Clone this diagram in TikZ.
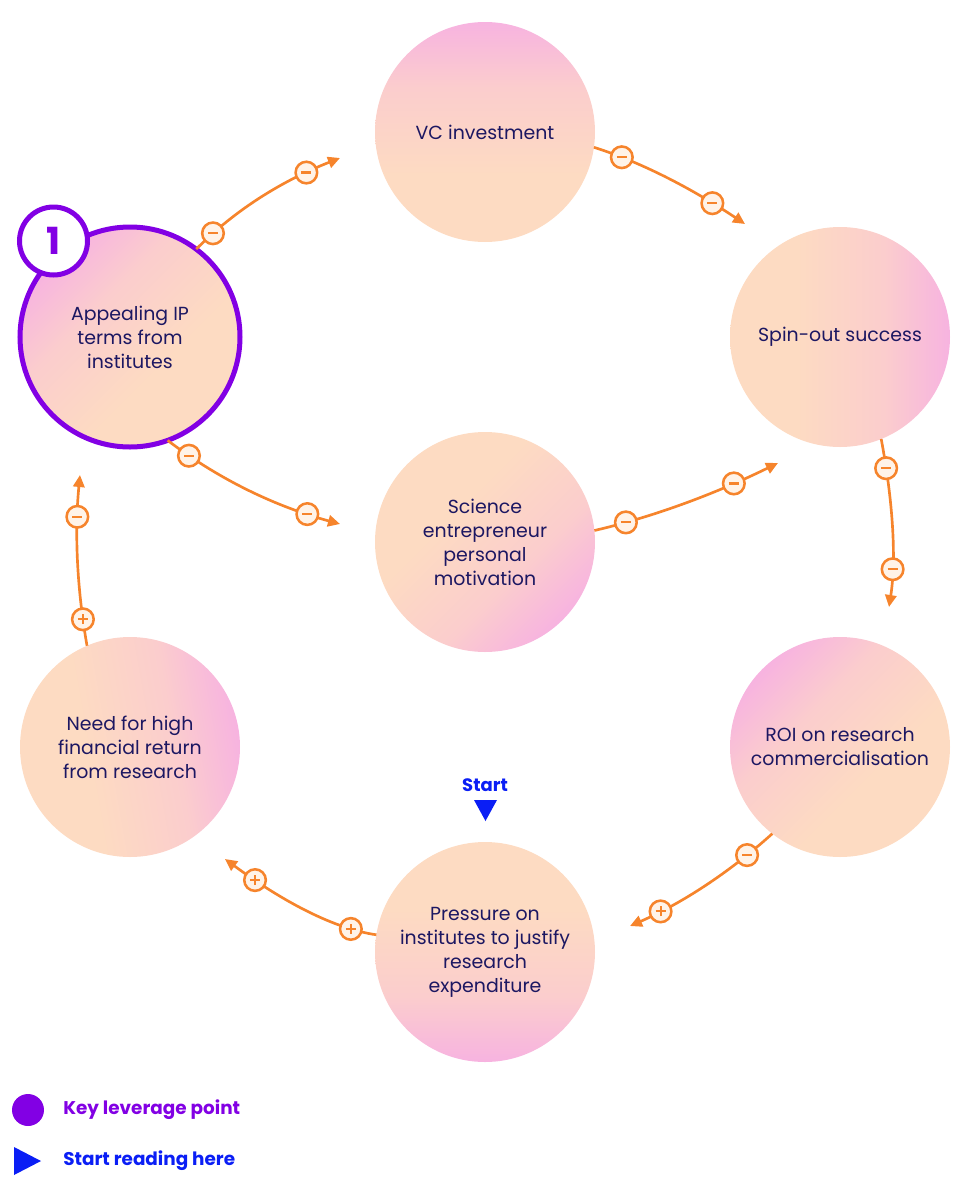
\documentclass[tikz,border=0pt]{standalone}
\usepackage{fontspec}
\setmainfont{Poppins}
\usetikzlibrary{arrows.meta}
\definecolor{pc}{HTML}{FDDBC2}
\definecolor{pm}{HTML}{FBCDCD}
\definecolor{pk}{HTML}{F7B3E0}
\definecolor{org}{HTML}{F6842C}
\definecolor{cream}{HTML}{FFF3E8}
\definecolor{navy}{HTML}{1C1762}
\definecolor{purp}{HTML}{8200E4}
\definecolor{blu}{HTML}{0A1EF5}
\pgfdeclareverticalshading{bub}{100bp}{color(0bp)=(pc); color(25bp)=(pc); color(40bp)=(pc); color(60bp)=(pm); color(75bp)=(pk); color(100bp)=(pk)}
\tikzset{
  bubble/.style={circle, minimum size=165pt, inner sep=0pt, outer sep=0pt, shading=bub, align=center, text=navy, font=\fontsize{14.2}{18}\selectfont},
  arr/.style={draw=org, line width=2pt, -{Triangle[length=9pt,width=8.5pt]}},
  mk/.style={circle, draw=org, line width=1.9pt, fill=cream, minimum size=16.2pt, inner sep=0pt},
  mkm/.style={mk, path picture={\draw[-, org, line width=1.6pt] ([xshift=-3.7pt]path picture bounding box.center) -- ([xshift=3.7pt]path picture bounding box.center);}},
  mkp/.style={mk, path picture={\draw[-, org, line width=1.6pt] ([xshift=-3.7pt]path picture bounding box.center) -- ([xshift=3.7pt]path picture bounding box.center) ([yshift=-3.7pt]path picture bounding box.center) -- ([yshift=3.7pt]path picture bounding box.center);}},
}
\begin{document}
\begin{tikzpicture}[x=0.75pt,y=-0.75pt]
\useasboundingbox (0,0) rectangle (960,1200);
% bubbles
\node[bubble, shading angle=0] (vc) at (485,132) {VC investment};
\node[bubble, shading angle=-90] (spin) at (840,337) {Spin-out success};
\node[bubble, shading angle=45, draw=purp, line width=3.75pt] (app) at (130,337) {Appealing IP\\terms from\\institutes};
\node[bubble, shading angle=-135] (sci) at (485,542) {Science\\entrepreneur\\personal\\motivation};
\node[bubble, shading angle=-80] (need) at (130,747) {Need for high\\financial return\\from research};
\node[bubble, shading angle=45] (roi) at (840,747) {ROI on research\\commercialisation};
\node[bubble, shading angle=180] (pres) at (485,952) {Pressure on\\institutes to justify\\research\\expenditure};
% badge
\node[circle, draw=purp, line width=3.75pt, fill=white, minimum size=51pt, inner sep=0pt, text=purp, font=\fontsize{28}{28}\selectfont\bfseries] (badge) at (53.5,241) {1};
% arrow end points
\coordinate (e1) at (340,158);
\coordinate (e2) at (745,224);
\coordinate (e3) at (889,607);
\coordinate (e4) at (630,926);
\coordinate (e5) at (225,859);
\coordinate (e6) at (80,475);
\coordinate (e7) at (340,524);
\coordinate (e8) at (778,463);
% connectors
\draw[arr] (app.53) .. controls (235,210) and (281.7,181) .. (e1)
  node[mkm, pos=0.14] (m1a) {} node[mkm, pos=0.8] (m1b) {};
\draw[arr] (vc.-8) .. controls (639.5,161.7) and (689.5,187) .. (e2)
  node[mkm, pos=0.2] (m2a) {} node[mkm, pos=0.8] (m2b) {};
\draw[arr] (spin.-68) .. controls (893.7,505.5) and (896.1,561.2) .. (e3)
  node[mkm, pos=0.15] (m3a) {} node[mkm, pos=0.74] (m3b) {};
\draw[arr] (roi.-128) .. controls (728.7,872.9) and (682,903.2) .. (e4)
  node[mkm, pos=0.19] (m4a) {} node[mkp, pos=0.8] (m4b) {};
\draw[arr] (pres.171) .. controls (335.7,928.9) and (285.7,903.6) .. (e5)
  node[mkp, pos=0.2] (m5a) {} node[mkp, pos=0.83] (m5b) {};
\draw[arr] (need.113) .. controls (76.6,586.5) and (74.6,530.5) .. (e6)
  node[mkp, pos=0.15] (m6a) {} node[mkm, pos=0.75] (m6b) {};
\draw[arr] (app.-70) .. controls (222,481.7) and (278.7,507.3) .. (e7)
  node[mkm, pos=0.13] (m7a) {} node[mkm, pos=0.82] (m7b) {};
\draw[arr] (sci.6) .. controls (652.1,517.1) and (713.1,494.8) .. (e8)
  node[mkm, pos=0.18] (m8a) {} node[mkm, pos=0.77] (m8b) {};
% start marker
\node[text=blu, font=\fontsize{13.5}{15}\selectfont\bfseries] (start) at (485,785) {Start};
\fill[blu] (474,800) -- (497,800) -- (485.5,821) -- cycle;
% legend
\node[circle, fill=purp, minimum size=24pt, inner sep=0pt] (lkey) at (28,1110) {};
\node[anchor=west, text=purp, font=\fontsize{13.8}{15}\selectfont\bfseries, inner sep=0pt] (lkeyt) at (63,1110) {Key leverage point};
\fill[blu] (14,1147) -- (41,1161) -- (14,1175) -- cycle;
\node[anchor=west, text=blu, font=\fontsize{13.8}{15}\selectfont\bfseries, inner sep=0pt] (lstart) at (63,1161) {Start reading here};
\end{tikzpicture}
\end{document}
